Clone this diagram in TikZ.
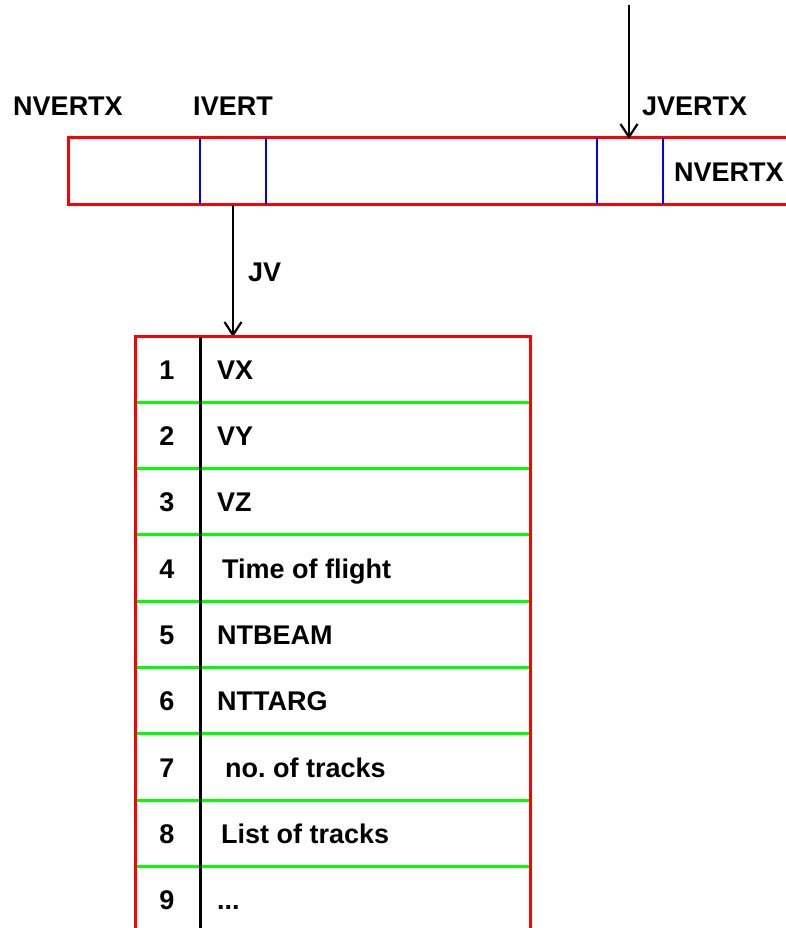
\documentclass[tikz,border=0pt]{standalone}
\usepackage{fontspec}
\setmainfont{Liberation Sans}
\usetikzlibrary{arrows.meta}
\frenchspacing
\begin{document}
\begin{tikzpicture}[x=1pt,y=-1pt,
  lbl/.style={font=\fontsize{27}{31}\selectfont\bfseries, inner sep=0pt},
  redline/.style={draw=red, line width=3pt},
  blueline/.style={draw=blue, line width=2.8pt},
  greenline/.style={draw=green, line width=3pt},
  divline/.style={draw=black, line width=3pt},
  ptr/.style={draw=black, line width=2.2pt, -{Straight Barb[length=13pt,width=17pt,line width=2.2pt]}}]
\useasboundingbox (0,0) rectangle (785,928);
% top bank
\coordinate (barTL) at (68,138);
\coordinate (barBL) at (68,204);
\coordinate (barTR) at (790,138);
\coordinate (barBR) at (790,204);
\draw[redline] (barTR) -- (barTL) -- (barBL) -- (barBR);
\foreach \x/\n in {200/b1,266/b2,597/b3,663/b4}{
  \coordinate (\n t) at (\x,138);
  \coordinate (\n b) at (\x,204);
  \draw[blueline] (\n t) -- (\n b);
}
\node[lbl, anchor=base] (nv1) at (68,115.5) {NVERTX};
\node[lbl, anchor=base] (ivert) at (233,115.5) {IVERT};
\node[lbl, anchor=base west] (jvertx) at (642,115.5) {JVERTX};
\node[lbl, anchor=base west] (nv2) at (674,181.5) {NVERTX};
\node[lbl, anchor=base west] (jv) at (248,281.5) {JV};
% arrows
\coordinate (topstart) at (629,5);
\coordinate (jvtarget) at (629,139);
\draw[ptr] (topstart) -- (jvtarget);
\coordinate (ivsrc) at (233,205);
\coordinate (tabletop) at (233,337);
\draw[ptr] (ivsrc) -- (tabletop);
% table
\coordinate (tTL) at (135,336);
\coordinate (tTR) at (530,336);
\coordinate (tBL) at (135,935);
\coordinate (tBR) at (530,935);
\foreach \i in {1,...,8}{
  \pgfmathsetmacro{\yy}{336+66.3*\i}
  \coordinate (gl\i) at (136,\yy);
  \coordinate (gr\i) at (529,\yy);
  \draw[greenline] (gl\i) -- (gr\i);
}
\draw[redline] (tBL) -- (tTL) -- (tTR) -- (tBR);
\coordinate (dtop) at (200,337);
\coordinate (dbot) at (200,935);
\draw[divline] (dtop) -- (dbot);
\foreach \i/\t/\xx in {1/VX/217,2/VY/217,3/VZ/217,4/Time of flight/222,5/NTBEAM/217,6/NTTARG/217,7/no. of tracks/225,8/List of tracks/221}{
  \pgfmathsetmacro{\yy}{336+66.3*\i-33+10}
  \node[lbl, anchor=base] (n\i) at (167,\yy) {\i};
  \node[lbl, anchor=base west] (c\i) at (\xx,\yy) {\t};
}
\node[lbl, anchor=base] (n9) at (167,909.7) {9};
\node[lbl, anchor=base west] (c9) at (217,909.7) {...};
\end{tikzpicture}
\end{document}
